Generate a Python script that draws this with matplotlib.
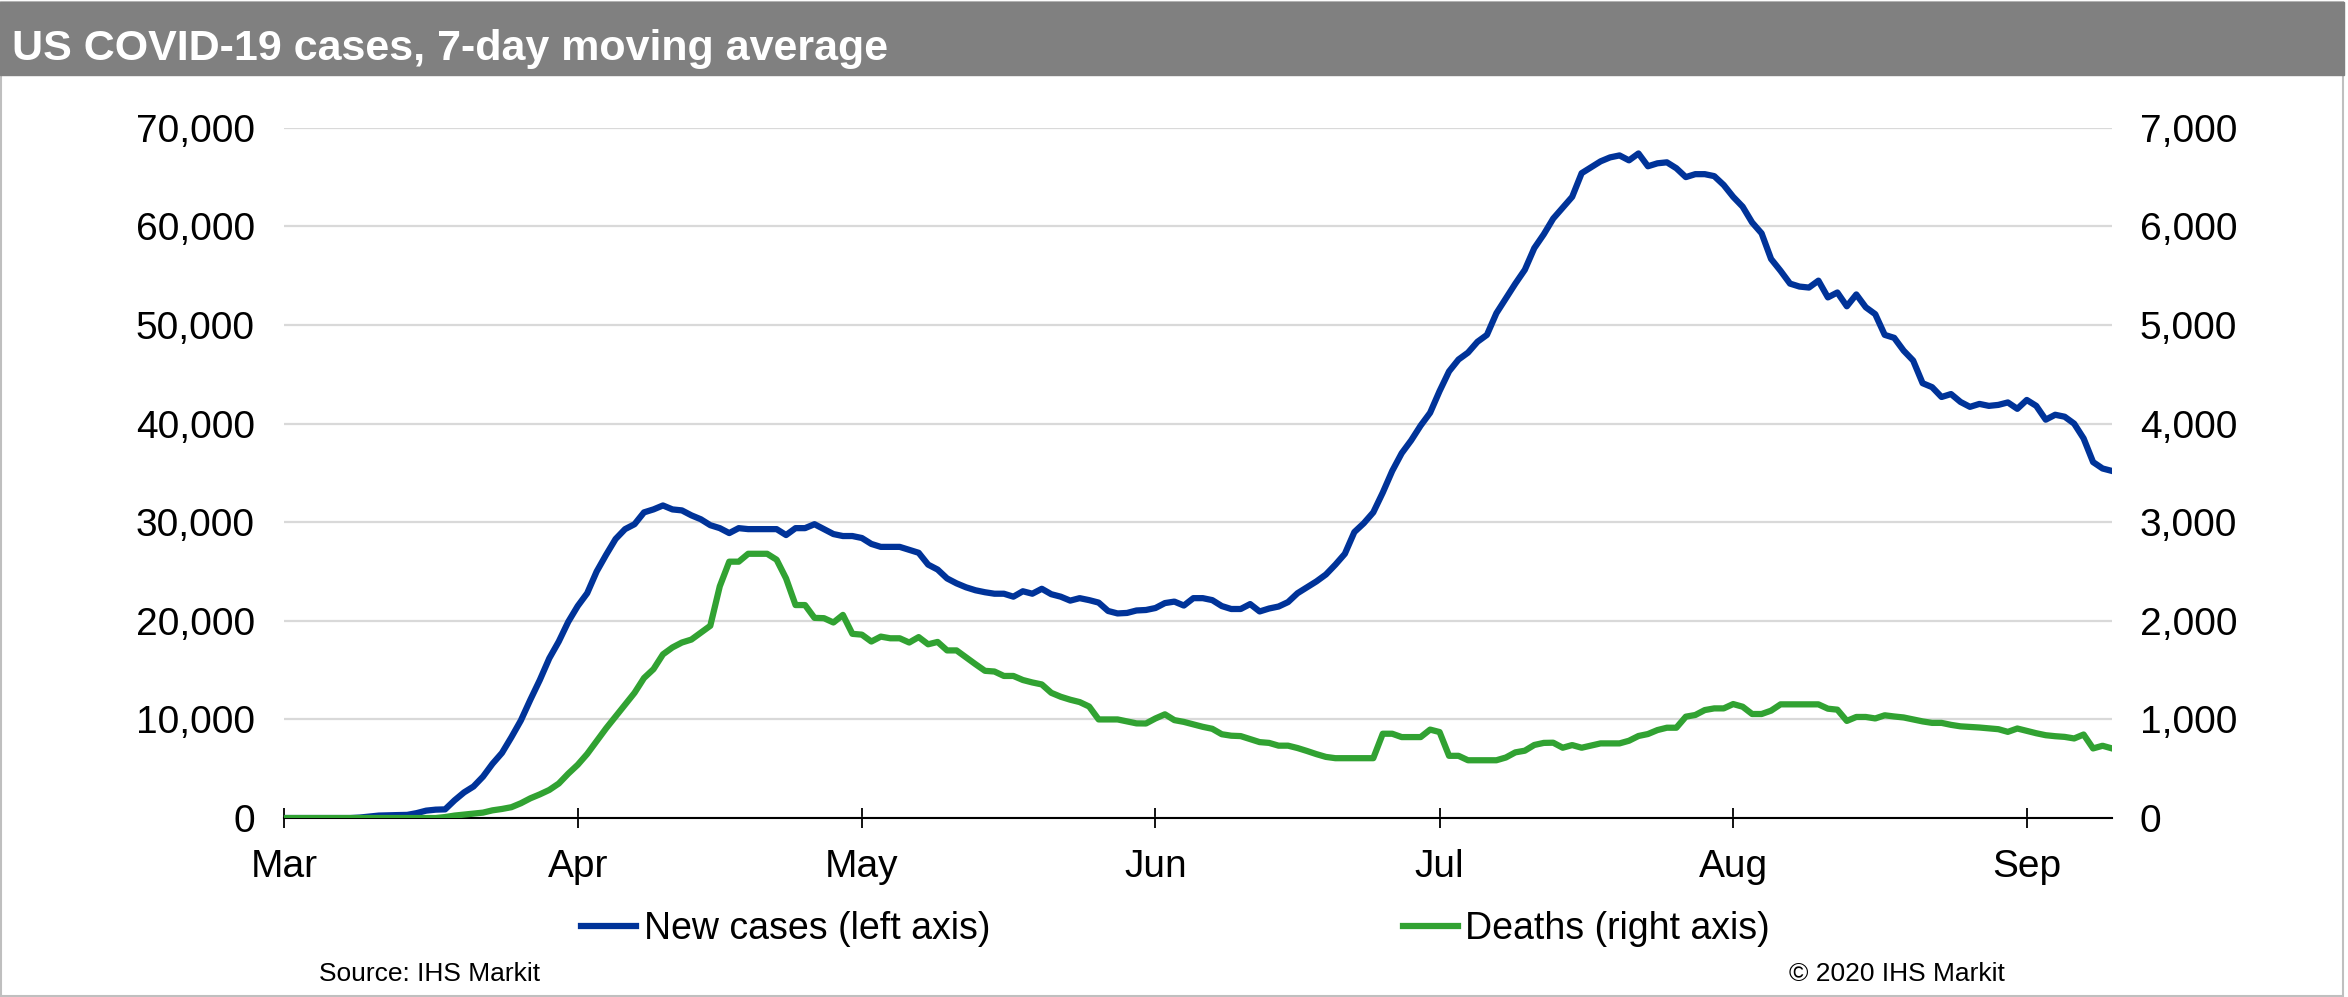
import pandas as pd
import matplotlib
matplotlib.use('Agg')
import matplotlib.pyplot as plt
import matplotlib.dates as mdates
from matplotlib.patches import Rectangle
from matplotlib.ticker import FuncFormatter, MultipleLocator

plt.rcParams['font.family'] = ['Liberation Sans', 'DejaVu Sans']

# 7-day averages, 1 Mar - 10 Sep 2020
dates = pd.date_range('2020-03-01', '2020-09-10', freq='D')

new_cases = [
    0, 0, 0, 0, 0, 0, 0, 0, 50, 150,
    250, 280, 300, 320, 500, 750, 850, 880, 1800, 2600,
    3200, 4200, 5500, 6600, 8200, 9900, 12000, 14000, 16200, 17900,
    19900, 21500, 22800, 25000, 26700, 28300, 29300, 29800, 31000, 31300,
    31700, 31300, 31200, 30700, 30300, 29700, 29400, 28900, 29400, 29300,
    29300, 29300, 29300, 28700, 29400, 29400, 29800, 29300, 28800, 28600,
    28600, 28400, 27800, 27500, 27500, 27500, 27200, 26900, 25700, 25200,
    24300, 23800, 23400, 23100, 22900, 22750, 22750, 22450, 23000, 22750,
    23250, 22700, 22450, 22050, 22300, 22100, 21850, 21000, 20750, 20800,
    21050, 21100, 21300, 21800, 21950, 21550, 22300, 22300, 22100, 21500,
    21200, 21200, 21700, 20950, 21250, 21450, 21900, 22800, 23400, 24000,
    24700, 25700, 26800, 29000, 29900, 31000, 33000, 35200, 37000, 38300,
    39800, 41100, 43300, 45300, 46500, 47200, 48300, 49000, 51200, 52700,
    54200, 55600, 57800, 59200, 60800, 61900, 63000, 65400, 66000, 66600,
    67000, 67200, 66700, 67400, 66100, 66400, 66500, 65900, 65000, 65300,
    65300, 65100, 64200, 63000, 62000, 60400, 59300, 56700, 55500, 54200,
    53900, 53800, 54500, 52800, 53300, 51900, 53100, 51800, 51100, 49000,
    48700, 47400, 46400, 44100, 43700, 42700, 43000, 42200, 41700, 42000,
    41800, 41900, 42150, 41500, 42400, 41800, 40400, 40900, 40700, 40000,
    38500, 36100, 35450, 35200,
]

deaths = [
    0, 0, 0, 0, 0, 0, 0, 0, 0, 0,
    0, 0, 0, 0, 0, 0, 0, 10, 25, 35,
    45, 55, 78, 92, 110, 150, 200, 240, 285, 350,
    450, 540, 650, 780, 910, 1030, 1150, 1270, 1420, 1510,
    1660, 1730, 1780, 1810, 1880, 1950, 2350, 2600, 2600, 2680,
    2680, 2680, 2620, 2430, 2160, 2160, 2030, 2027, 1983, 2060,
    1868, 1860, 1790, 1840, 1823, 1823, 1780, 1835, 1762, 1786,
    1700, 1700, 1630, 1560, 1493, 1486, 1441, 1441, 1400, 1375,
    1355, 1270, 1230, 1200, 1176, 1131, 1000, 1000, 1000, 980,
    960, 959, 1010, 1052, 993, 975, 950, 925, 905, 850,
    835, 831, 800, 770, 762, 734, 734, 710, 680, 648,
    620, 607, 607, 607, 607, 607, 855, 855, 821, 821,
    821, 897, 872, 631, 631, 586, 586, 586, 586, 614,
    666, 683, 741, 762, 764, 713, 740, 713, 735, 757,
    757, 757, 784, 832, 852, 892, 916, 916, 1028, 1045,
    1095, 1112, 1112, 1156, 1129, 1055, 1055, 1089, 1153, 1153,
    1153, 1153, 1153, 1109, 1099, 985, 1025, 1025, 1010, 1042,
    1030, 1020, 1000, 980, 965, 965, 945, 930, 924, 918,
    910, 901, 874, 908, 884, 860, 840, 830, 823, 807,
    847, 706, 733, 706,
]

title = 'US COVID-19 cases, 7-day moving average'
labels = ['New cases (left axis)', 'Deaths (right axis)']
source = 'Source: IHS Markit'
copyright_txt = '\u00a9 2020 IHS Markit'

blue = '#003399'
green = '#31a232'

fig = plt.figure(figsize=(23.48, 9.97), dpi=100)

# outer frame and grey title bar
fig.patches.append(Rectangle((0.0004, 0.001), 0.9975, 0.997, transform=fig.transFigure,
                             fill=False, edgecolor='#bfbfbf', lw=1.5))
fig.patches.append(Rectangle((0.0, 0.925), 0.9983, 0.073, transform=fig.transFigure,
                             color='#808080', zorder=2))
fig.text(0.005, 0.940, title, color='white', fontsize=31, fontweight='bold', va='baseline')

ax = fig.add_axes([0.121, 0.1795, 0.7785, 0.6923])
ax2 = ax.twinx()

l1, = ax.plot(dates, new_cases, color=blue, lw=4.5, solid_joinstyle='round')
l2, = ax2.plot(dates, deaths, color=green, lw=4.5, solid_joinstyle='round')

ax.set_xlim(dates[0], dates[-1])
ax.set_ylim(0, 70000)
ax2.set_ylim(0, 7000)
ax.yaxis.set_major_locator(MultipleLocator(10000))
ax2.yaxis.set_major_locator(MultipleLocator(1000))
fmt = FuncFormatter(lambda v, p: f'{int(v):,}')
ax.yaxis.set_major_formatter(fmt)
ax2.yaxis.set_major_formatter(fmt)

ax.xaxis.set_major_locator(mdates.MonthLocator())
ax.xaxis.set_major_formatter(mdates.DateFormatter('%b'))

ax.grid(axis='y', color='#d9d9d9', lw=1.6)
ax.set_axisbelow(True)
for a in (ax, ax2):
    for s in ('top', 'left', 'right', 'bottom'):
        a.spines[s].set_visible(False)
ax.spines['bottom'].set_visible(True)
ax.spines['bottom'].set_color('black')
ax.spines['bottom'].set_linewidth(1.5)

ax.tick_params(axis='x', direction='inout', length=14, width=1.3, labelsize=28, pad=15)
ax.tick_params(axis='y', length=0, labelsize=28, pad=21)
ax2.tick_params(axis='y', length=0, labelsize=28, pad=20)

fig.legend([l1, l2], labels, loc='center left', bbox_to_anchor=(0.2474, 0.068),
           ncol=2, frameon=False, fontsize=27, handlelength=1.47, handletextpad=0.2,
           columnspacing=11.0, borderpad=0, borderaxespad=0)

fig.text(0.136, 0.016, source, fontsize=19, va='baseline')
fig.text(0.762, 0.016, copyright_txt, fontsize=19, va='baseline')

fig.savefig('out.png', dpi=100)
